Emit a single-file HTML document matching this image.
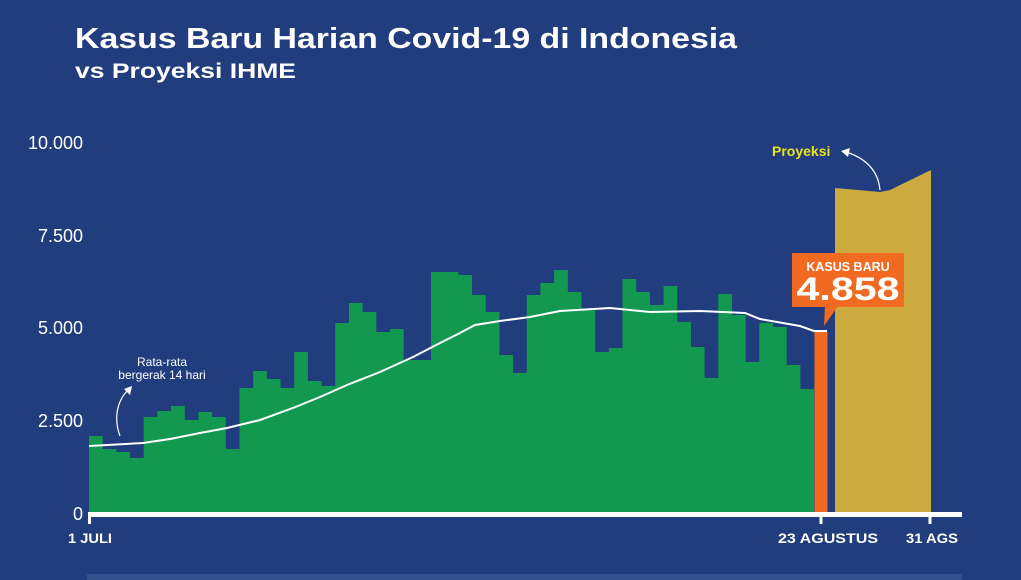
<!DOCTYPE html>
<html><head><meta charset="utf-8"><style>
html,body{margin:0;padding:0;background:#223d7e;}
svg{display:block;}
</style></head><body>
<svg width="1021" height="580" viewBox="0 0 1021 580" xmlns="http://www.w3.org/2000/svg">
<rect width="1021" height="580" fill="#223d7e"/>
<text x="75" y="48" fill="#fff" font-family="Liberation Sans, sans-serif" font-weight="bold" font-size="29" textLength="662" lengthAdjust="spacingAndGlyphs">Kasus Baru Harian Covid-19 di Indonesia</text>
<text x="75" y="78" fill="#fff" font-family="Liberation Sans, sans-serif" font-weight="bold" font-size="21" textLength="221" lengthAdjust="spacingAndGlyphs">vs Proyeksi IHME</text>
<g fill="#fff" font-family="Liberation Sans, sans-serif" font-size="18" text-anchor="end">
<text x="83" y="149">10.000</text>
<text x="83" y="242">7.500</text>
<text x="83" y="334">5.000</text>
<text x="83" y="427">2.500</text>
<text x="83" y="520">0</text>
</g>
<path fill="#13994f" d="M89,513 V436 H102.68 V449 H116.36 V452 H130.04 V458 H143.72 V417 H157.4 V411 H171.08 V406 H184.76 V420 H198.44 V412 H212.12 V417 H225.8 V449 H239.48 V388 H253.16 V371 H266.84 V379 H280.52 V388 H294.2 V352 H307.88 V381 H321.56 V386 H335.24 V323 H348.92 V303 H362.6 V312 H376.28 V332 H389.96 V329 H403.64 V360 H431 V272 H458.36 V275 H472.04 V295 H485.72 V312 H499.4 V355 H513.08 V373 H526.76 V295 H540.44 V283 H554.12 V270 H567.8 V292 H581.48 V310 H595.16 V352 H608.84 V348 H622.52 V279 H636.2 V292 H649.88 V305 H663.56 V286 H677.24 V322 H690.92 V347 H704.6 V378 H718.28 V294 H731.96 V315 H745.64 V362 H759.32 V323 H773 V327 H786.68 V365 H800.36 V389 H814 V513 Z"/>
<rect x="814.5" y="332" width="13" height="181" fill="#f26a22"/>
<path fill="#ccaa40" d="M835,513 V188 L858,190 L880,192 L890,190 L931,170 V513 Z"/>
<polyline fill="none" stroke="#fff" stroke-width="2" points="89,446 143,443 170,439 200,433 227,428 260,420 293,408 320,397 347,385 380,372 413,357 440,343 460,333 475,325 500,321 530,317 560,311 610,308 650,312 700,311 745,313 760,319 800,326 814,331 827,331"/>
<rect x="89" y="512" width="873" height="5" fill="#fff"/>
<rect x="88" y="512" width="3" height="12" fill="#fff"/>
<rect x="819.5" y="512" width="3" height="12" fill="#fff"/>
<rect x="928.5" y="512" width="3" height="12" fill="#fff"/>
<g fill="#fff" font-family="Liberation Sans, sans-serif" font-weight="bold" font-size="14">
<text x="68" y="543" textLength="44" lengthAdjust="spacingAndGlyphs">1 JULI</text>
<text x="778" y="543" textLength="100" lengthAdjust="spacingAndGlyphs">23 AGUSTUS</text>
<text x="906" y="543" textLength="52" lengthAdjust="spacingAndGlyphs">31 AGS</text>
</g>
<rect x="87" y="574" width="875" height="6" fill="#34508d"/>
<rect x="792" y="253" width="112" height="54" fill="#f26a22"/>
<polygon points="825,306 838,306 824,326" fill="#f26a22"/>
<text x="848" y="271" fill="#fff" text-anchor="middle" font-family="Liberation Sans, sans-serif" font-weight="bold" font-size="12.5">KASUS BARU</text>
<text x="848" y="300" fill="#fff" text-anchor="middle" font-family="Liberation Sans, sans-serif" font-weight="bold" font-size="32" textLength="103" lengthAdjust="spacingAndGlyphs">4.858</text>
<text x="772" y="156" fill="#e8e31c" font-family="Liberation Sans, sans-serif" font-weight="bold" font-size="14">Proyeksi</text>
<path d="M880,190 C878,170 865,158 846,152" fill="none" stroke="#fff" stroke-width="1.2"/>
<polygon points="841,151 850,148 848,157" fill="#fff"/>
<text x="162" y="366" fill="#fff" text-anchor="middle" font-family="Liberation Sans, sans-serif" font-size="12">Rata-rata</text>
<text x="162" y="379" fill="#fff" text-anchor="middle" font-family="Liberation Sans, sans-serif" font-size="12">bergerak 14 hari</text>
<path d="M120,436 C114,420 116,402 128,390" fill="none" stroke="#fff" stroke-width="1.2"/>
<polygon points="132,386 124,389 130,395" fill="#fff"/>
</svg>
</body></html>
